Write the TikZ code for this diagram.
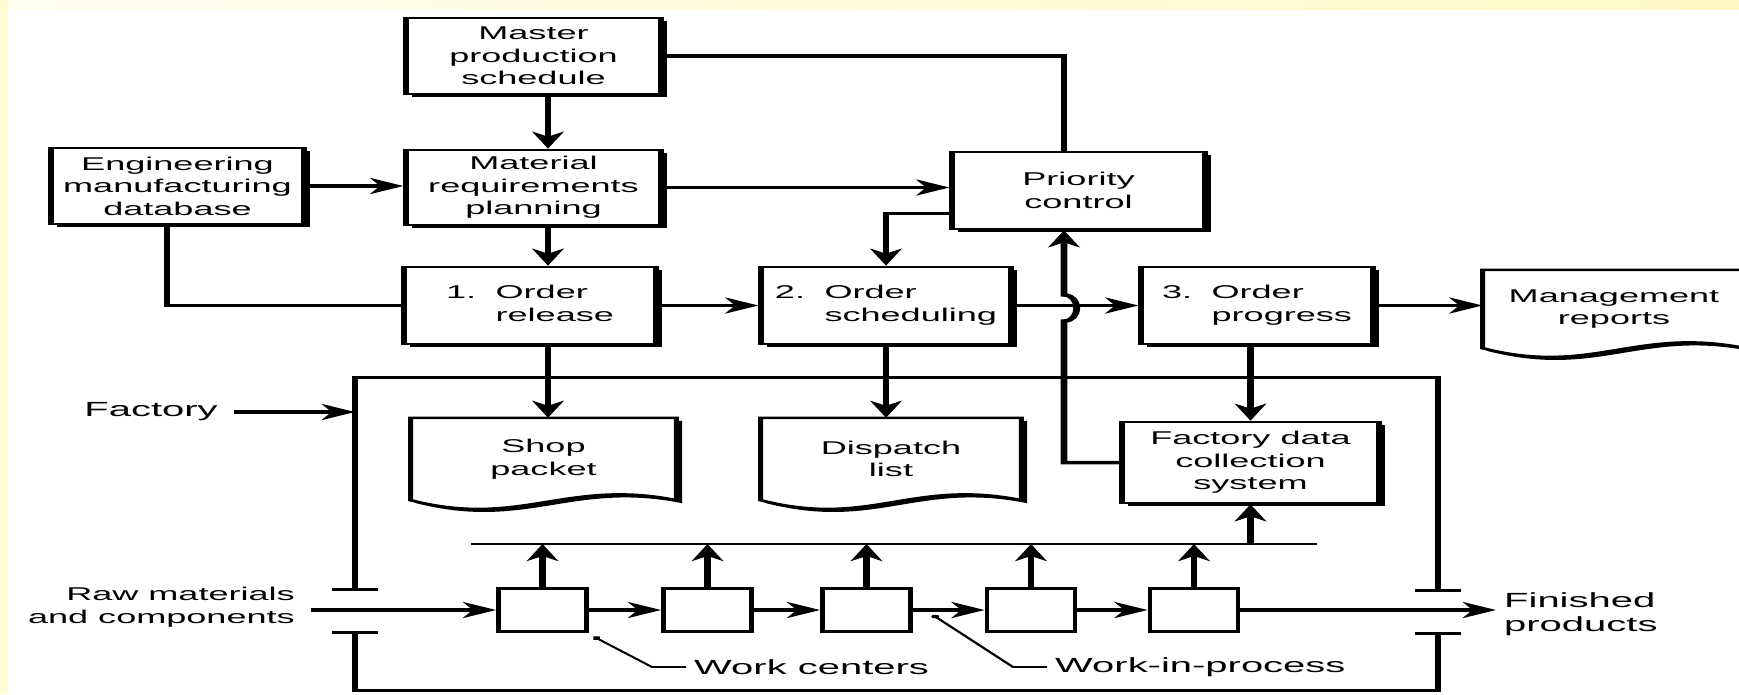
\documentclass[tikz,border=0pt]{standalone}
\usepackage{fontspec}
\setmainfont{Liberation Sans}
\usetikzlibrary{arrows.meta,calc,shadows}

\definecolor{edgeyel}{HTML}{FFFBD2}
\definecolor{topyelL}{HTML}{FFFEF0}
\definecolor{topyelR}{HTML}{FFF8C4}

\newcommand\boxfont{\fontsize{18.5}{22.5}\selectfont}
\newcommand\labfont{\fontsize{20.5}{24.5}\selectfont}
\newcommand\ordtxt[2]{\begin{tabular}{@{}l@{\hspace{10pt}}l@{}}#1. & Order\\ & #2\end{tabular}}

\tikzset{
	boxw/.code={\pgfmathsetmacro\bwtmp{#1/1.95}\edef\bwnext{\noexpand\pgfkeysalso{minimum width=\bwtmp pt}}\bwnext},
	shdw/.style={drop shadow={shadow xshift=3pt,shadow yshift=-3pt,fill=black,opacity=1}},
	blk/.style={draw,line width=2.6pt,fill=white,inner sep=0pt,align=center,font=\boxfont,shdw},
	docline/.style={draw,line width=2.6pt,fill=white,shdw},
	wc/.style={draw,line width=2.4pt,fill=white,boxw=88,minimum height=43pt},
	arr/.style={line width=3.5pt,-{Stealth[length=17pt,width=16pt,inset=5pt]}},
	ln/.style={line width=3.5pt},
	frm/.style={line width=3pt},
	lead/.style={line width=1.6pt},
	lab/.style={font=\labfont,inner sep=4pt}
}

\begin{document}
\begin{tikzpicture}[x=1pt,y=-1pt]
	\useasboundingbox (0,0) rectangle (1739,694);
	\shade[left color=topyelL,right color=topyelR] (0,0) rectangle (1739,10);
	\fill[edgeyel] (0,0) rectangle (8,694);
	\fill[white] (8,10) rectangle (1739,694);

	\begin{scope}[x=0.51282pt,transform canvas={xscale=1.95}]
	\node[blk,boxw=255,minimum height=76pt] (mps) at (533.5,56) {Master\\production\\schedule};
	\node[blk,boxw=253,minimum height=76pt] (eng) at (177.5,186) {Engineering\\manufacturing\\database};
	\node[blk,boxw=255,minimum height=75pt] (mrp) at (533.5,187.5) {Material\\requirements\\planning};
	\node[blk,boxw=253,minimum height=77pt] (prio) at (1078.5,190.5) {Priority\\control};
	\node[blk,boxw=252,minimum height=77pt] (rel) at (530,305.5) {\ordtxt{1}{release}};
	\node[blk,boxw=250,minimum height=77pt] (sched) at (886,305.5) {\ordtxt{2}{scheduling}};
	\node[blk,boxw=232,minimum height=77pt] (prog) at (1257,305.5) {\ordtxt{3}{progress}};
	\node[blk,boxw=257,minimum height=81pt] (fdc) at (1250.5,462.5) {Factory data\\collection\\system};

	\node[inner sep=0pt,boxw=265,minimum height=82pt] (shop) at (543.5,459) {};
	\node[inner sep=0pt,boxw=260,minimum height=82pt] (disp) at (891,459) {};
	\node[inner sep=0pt,boxw=262,minimum height=78pt] (mgmt) at (1614,309) {};
	\foreach \d in {shop,disp,mgmt}
		\path[docline] (\d.south west) -- (\d.north west) -- (\d.north east) -- (\d.south east)
			.. controls +(-110,-22) and +(110,28) .. (\d.south west) -- cycle;
	\node[font=\boxfont,align=center] (shoptxt) at (shop) {Shop\\packet};
	\node[font=\boxfont,align=center] (disptxt) at (disp) {Dispatch\\list};
	\node[font=\boxfont,align=center] (mgmttxt) at (mgmt) {Management\\reports};

	\coordinate (frmTL) at (355,377);
	\coordinate (frmTR) at (1438,377);
	\coordinate (frmBL) at (355,690);
	\coordinate (frmBR) at (1438,690);
	\coordinate (gapLt) at (355,589);
	\coordinate (gapLb) at (355,632);
	\coordinate (gapRt) at (1438,590);
	\coordinate (gapRb) at (1438,633);
	\draw[frm] (gapLt) -- (frmTL) -- (frmTR) -- (gapRt);
	\draw[frm] (gapLb) -- (frmBL) -- (frmBR) -- (gapRb);
	\foreach \g in {gapLt,gapLb,gapRt,gapRb}
		\draw[frm] ($(\g)+(-23,0)$) -- ($(\g)+(23,0)$);

	\foreach \i/\x in {1/542.5,2/707.5,3/866.5,4/1031,5/1194}
		\node[wc] (wc\i) at (\x,610) {};

	\node[lab] (factory) at (151,412) {Factory};
	\node[lab,font=\boxfont,anchor=east,align=right] (raw) at (303,607) {Raw materials\\and components};
	\node[lab,anchor=west,align=left] (fin) at (1496,614) {Finished\\products};
	\node[lab,anchor=west] (wclab) at (686,667) {Work centers};
	\node[lab,anchor=west] (wiplab) at (1047,667) {Work-in-process};

	\coordinate (colA) at (548,0);
	\coordinate (engdrop) at (167,0);
	\coordinate (hoplo) at (1064,321);
	\coordinate (hophi) at (1064,295);
	\coordinate (busL) at (471,544);
	\coordinate (busR) at (1317,544);
	\coordinate (wcknee) at (652,667);
	\coordinate (wipknee) at (1013,667);

	\draw[arr] (mps.south -| colA) -- (mrp.north -| colA);
	\draw[arr] (mrp.south -| colA) -- (rel.north -| colA);
	\draw[arr] (rel.south -| colA) -- (shop.north -| colA);
	\draw[arr] (eng.east) -- (eng.east -| mrp.west);
	\draw[ln] (eng.south -| engdrop) |- (rel.west);
	\draw[ln] (mps.east) -| (prio.north -| hophi);
	\draw[arr] (mrp.east) -- (mrp.east -| prio.west);
	\draw[arr] ($(prio.west)+(0,23)$) -| (sched.north);
	\draw[arr] (rel.east) -- (sched.west);
	\draw[arr] (sched.east) -- (prog.west);
	\draw[arr] (prog.east) -- (prog.east -| mgmt.west);
	\draw[arr] (sched.south) -- (sched.south |- disp.north);
	\draw[arr] (prog.south -| fdc.north) -- (fdc.north);
	\draw[arr] (fdc.west) -| (hoplo) .. controls +(17,0) and +(17,0) .. (hophi) -- (prio.south -| hophi);

	\draw[line width=2.5pt] (busL) -- (busR);
	\foreach \i in {1,...,5}
		\draw[arr] (wc\i.north) -- (wc\i.north |- busL);
	\draw[arr] (fdc.south |- busL) -- (fdc.south);

	\draw[arr,shorten <=4pt] (raw.east |- wc1) -- (wc1);
	\foreach \i/\j in {1/2,2/3,3/4,4/5}
		\draw[arr] (wc\i) -- (wc\j);
	\draw[arr] (wc5) -- (fin.west |- wc5);
	\draw[arr,shorten <=4pt] (factory.east) -- (factory.east -| frmTL);

	\draw[lead,{Circle[length=4pt]}-] ($(wc1.south east)+(5,4)$) -- (wcknee) -- (wclab.west);
	\draw[lead,{Circle[length=4pt]}-] ($(wc3.east)+(20,5)$) -- (wipknee) -- (wiplab.west);
	\end{scope}
\end{tikzpicture}
\end{document}
